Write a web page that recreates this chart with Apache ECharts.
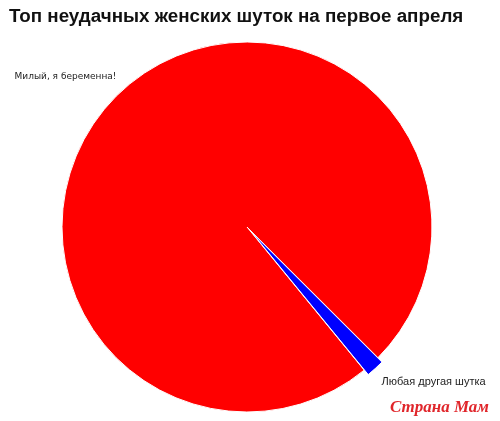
<!DOCTYPE html>
<html>
<head>
<meta charset="utf-8">
<script src="https://cdn.jsdelivr.net/npm/echarts@6/dist/echarts.min.js"></script>
<style>
  html, body { margin: 0; padding: 0; background: #fff; }
  #main { width: 500px; height: 421px; }
</style>
</head>
<body>
<div id="main"></div>
<script>
// chart data
let categories = ["Милый, я беременна!", "Любая другая шутка"]
let values = [98.4, 1.6]
let colors = ["#ff0000", "#0000ff"]

// label look for each slice (the two labels use different fonts in the original)
let labelFonts = ["DejaVu Sans", "Liberation Sans"]
let labelSizes = [9, 11]
let labelShift = [-12, 12]

let data = categories.map((name, i) => ({
    name: name,
    value: values[i],
    selected: i === 1,
    itemStyle: { color: colors[i] },
    label: { fontFamily: labelFonts[i], fontSize: labelSizes[i] }
}))

var myChart = echarts.init(document.getElementById('main'), null, { renderer: 'canvas' })

var option = {
    backgroundColor: '#fff',
    animation: false,
    title: {
        text: 'Топ неудачных женских шуток на первое апреля',
        left: 4,
        top: 2,
        textStyle: {
            fontFamily: 'Liberation Sans',
            fontWeight: 'bold',
            fontSize: 18.8,
            color: '#111'
        }
    },
    graphic: [
        {
            type: 'text',
            right: 10,
            top: 398,
            style: {
                text: 'Страна Мам',
                font: 'italic bold 17px "Liberation Serif"',
                fill: '#e0262b',
                stroke: '#fff',
                lineWidth: 2,
                shadowColor: 'rgba(0,0,0,0.4)',
                shadowBlur: 3
            }
        }
    ],
    series: [
        {
            type: 'pie',
            center: [247, 227],
            radius: 185,
            startAngle: -50.7,
            clockwise: true,
            selectedMode: 'single',
            selectedOffset: 6,
            data: data,
            itemStyle: {
                borderColor: '#fff',
                borderWidth: 1
            },
            label: {
                position: 'outside',
                color: '#222'
            },
            labelLine: { show: false, length: 2, length2: 0 },
            labelLayout: function (params) {
                return { dy: labelShift[params.dataIndex] }
            },
            emphasis: { disabled: true }
        }
    ]
}

myChart.setOption(option)
</script>
</body>
</html>
